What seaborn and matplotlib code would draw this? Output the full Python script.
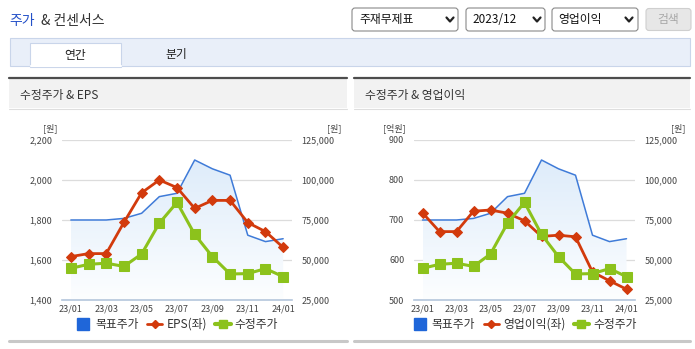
import numpy as np
import pandas as pd
import matplotlib
matplotlib.use("Agg")
import matplotlib.pyplot as plt
import seaborn as sns
from matplotlib.patches import Rectangle, FancyBboxPatch, Polygon
from matplotlib.lines import Line2D
from matplotlib.ticker import FuncFormatter

# ---------------- data ----------------
months = ["23/01", "23/02", "23/03", "23/04", "23/05", "23/06", "23/07",
          "23/08", "23/09", "23/10", "23/11", "23/12", "24/01"]
tick_labels = ["23/01", "23/03", "23/05", "23/07", "23/09", "23/11", "24/01"]
target_price = [75000, 75000, 75000, 76000, 79200, 89600, 91700,
                112500, 107000, 103000, 65500, 61500, 63300]
adj_price = [44800, 47300, 48000, 46000, 53750, 73000, 86000,
             66000, 52100, 41250, 41500, 44600, 39600]
eps = [1617, 1632, 1632, 1788, 1936, 2000, 1962, 1858, 1898, 1898, 1787, 1742, 1663]
op_profit = [718, 671, 671, 722, 725, 717, 698, 659, 662, 658, 570, 548, 527]

eps_ticks = [1400, 1600, 1800, 2000, 2200]
op_ticks = [500, 600, 700, 800, 900]
price_ticks = [25000, 50000, 75000, 100000, 125000]

sns.set_style("white")
plt.rcParams["font.family"] = ["Noto Sans CJK KR", "DejaVu Sans"]

W, H = 695, 349
fig = plt.figure(figsize=(W / 100, H / 100), dpi=100)

BLUE = "#3f7bd8"
BLUE_SQ = "#1f66d9"
RED = "#d23a0c"
GREEN = "#8cc21c"
TXT = "#333333"
AXC = "#b4c6dc"

# overlay axes in pixel coordinates for decoration
deco = fig.add_axes([0, 0, 1, 1], zorder=0)
deco.set_xlim(0, W)
deco.set_ylim(H, 0)
deco.axis("off")


def rect(x0, y0, x1, y1, **kw):
    deco.add_patch(Rectangle((x0, y0), x1 - x0, y1 - y0, **kw))


def rbox(x0, y0, x1, y1, **kw):
    deco.add_patch(FancyBboxPatch((x0, y0), x1 - x0, y1 - y0,
                                  boxstyle="round,pad=0,rounding_size=3", **kw))


def chevron(cx, cy):
    deco.plot([cx - 3.5, cx, cx + 3.5], [cy - 2, cy + 2, cy - 2], color="#222222", lw=1.6,
              solid_capstyle="round", solid_joinstyle="round")


# top title
deco.text(9, 21, "주가", color="#2451c8", fontsize=10, va="center", ha="left")
deco.text(41, 21, "& 컨센서스", color=TXT, fontsize=10, va="center", ha="left")

# dropdowns
for x0, x1, label, tx, chx in [(352, 458, "주재무제표", 359, 450),
                               (466, 545, "2023/12", 472, 537),
                               (552, 638, "영업이익", 558, 629)]:
    rbox(x0, 8, x1, 31, facecolor="white", edgecolor="#8a8a8a", lw=0.8)
    deco.text(tx, 19.5, label, fontsize=8.5, color="#111111", va="center", ha="left")
    chevron(chx, 19.5)
rbox(646, 8.5, 691, 30.5, facecolor="#e7e7e7", edgecolor="#cfcfcf", lw=0.8)
deco.text(668.5, 19.5, "검색", fontsize=8.5, color="#a8a8a8", va="center", ha="center")

# tab band
rect(10, 38, 690, 66, facecolor="#e9eff9", edgecolor="#c9d5ea", lw=0.8)
rect(30, 43, 121, 67, facecolor="white", edgecolor="#c9d5ea", lw=0.8)
deco.plot([30.5, 120.5], [66.2, 66.2], color="white", lw=1.5)
deco.text(75.5, 55, "연간", fontsize=8.5, color="#222222", va="center", ha="center")
deco.text(176, 54.5, "분기", fontsize=8.5, color="#222222", va="center", ha="center")

# panel headers
for x0, x1, title in [(9, 347, "수정주가 & EPS"), (354, 690, "수정주가 & 영업이익")]:
    rect(x0, 78, x1, 108, facecolor="#f2f2f2", edgecolor="none")
    deco.plot([x0, x1], [78, 78], color="#4d4d4d", lw=1.6)
    deco.plot([x0, x1], [108.5, 108.5], color="#dedede", lw=0.8)
    deco.text(x0 + 11, 95, title, fontsize=8.5, color=TXT, va="center", ha="left")
    deco.plot([x0, x1], [341, 341], color="#c8c8c8", lw=2.2)


def px_axes(x0, y0, x1, y1):
    return [x0 / W, 1 - y1 / H, (x1 - x0) / W, (y1 - y0) / H]


def comma(v, pos):
    return f"{int(v):,}"


def draw_chart(x0, x1, left_vals, left_ticks, left_unit, left_unit_x, right_unit_x, legend_label):
    idx = np.arange(len(months))
    rect_ = px_axes(x0, 140, x1, 300)

    ax2 = fig.add_axes(rect_, zorder=1)  # price axis (bottom layer): grid, fill, target
    ax = fig.add_axes(rect_, zorder=2)   # left axis: EPS / op profit
    ax3 = fig.add_axes(rect_, zorder=3)  # top layer: adjusted price
    for a in (ax, ax2, ax3):
        a.patch.set_visible(False)
        a.set_xlim(-0.5, len(months) - 0.5)
        for s in a.spines.values():
            s.set_visible(False)

    # price axis
    ax2.set_ylim(price_ticks[0], price_ticks[-1])
    ax3.set_ylim(price_ticks[0], price_ticks[-1])
    ax2.yaxis.tick_right()
    ax2.set_yticks(price_ticks)
    ax2.yaxis.set_major_formatter(FuncFormatter(comma))
    ax2.tick_params(axis="y", length=0, pad=7, labelsize=6.5, labelcolor="#444444")
    ax2.set_xticks([])
    ax2.grid(axis="y", color="#dcdcdc", lw=0.9)
    ax2.set_axisbelow(True)

    # gradient fill under target price
    verts = [(idx[0], price_ticks[0])] + list(zip(idx, target_price)) + [(idx[-1], price_ticks[0])]
    poly = Polygon(verts, closed=True, facecolor="none", edgecolor="none")
    ax2.add_patch(poly)
    t = np.linspace(1, 0, 256)[:, None, None]
    top = np.array([0.87, 0.925, 0.98])
    bot = np.array([0.99, 0.995, 1.0])
    img = bot + (top - bot) * t
    im = ax2.imshow(img, extent=[idx[0], idx[-1], price_ticks[0], 112500], origin="upper",
                    aspect="auto", zorder=1, interpolation="bilinear")
    im.set_clip_path(poly)
    ax2.set_xlim(-0.5, len(months) - 0.5)
    ax2.set_ylim(price_ticks[0], price_ticks[-1])
    sns.lineplot(x=idx, y=target_price, ax=ax2, color=BLUE, lw=1.1, zorder=3)

    # left value axis
    ax.set_ylim(left_ticks[0], left_ticks[-1])
    ax.set_yticks(left_ticks)
    ax.yaxis.set_major_formatter(FuncFormatter(comma))
    ax.tick_params(axis="y", length=0, pad=7, labelsize=6.5, labelcolor="#444444")
    sns.lineplot(x=idx, y=left_vals, ax=ax, color=RED, lw=2, marker="D", markersize=5,
                 markeredgecolor=RED, markerfacecolor=RED, zorder=4)
    ax.spines["bottom"].set_visible(True)
    ax.spines["bottom"].set_color(AXC)
    ax.spines["bottom"].set_linewidth(1.2)
    ax.set_xticks(idx[::2])
    ax.set_xticklabels(tick_labels)
    ax.set_xticks([-0.5, 2.5, 4.5, 6.5, 8.5, 10.5, 12.5], minor=True)
    ax.tick_params(axis="x", which="major", length=0, pad=3, labelsize=6.5, labelcolor="#444444")
    ax.tick_params(axis="x", which="minor", length=5, width=1.2, color=AXC)
    ax.set_xlim(-0.5, len(months) - 0.5)

    # adjusted price on top
    sns.lineplot(x=idx, y=adj_price, ax=ax3, color=GREEN, lw=2.2, marker="s", markersize=7,
                 markeredgecolor=GREEN, markerfacecolor=GREEN, zorder=5)
    ax3.set_xticks([])
    ax3.set_yticks([])
    ax3.set_xlim(-0.5, len(months) - 0.5)

    for a in (ax, ax2, ax3):
        a.set_xlabel("")
        a.set_ylabel("")

    # unit labels
    deco.text(left_unit_x, 128.5, left_unit, fontsize=6.5, color="#444444", ha="right", va="center")
    deco.text(right_unit_x, 128.5, "[원]", fontsize=6.5, color="#444444", ha="right", va="center")

    # legend
    handles = [
        Line2D([], [], marker="s", linestyle="none", markersize=8.5,
               markerfacecolor=BLUE_SQ, markeredgecolor=BLUE_SQ),
        Line2D([], [], color=RED, lw=2, marker="D", markersize=4,
               markerfacecolor=RED, markeredgecolor=RED),
        Line2D([], [], color=GREEN, lw=3, marker="s", markersize=6,
               markerfacecolor=GREEN, markeredgecolor=GREEN),
    ]
    labels = ["목표주가", legend_label, "수정주가"]
    cx = (x0 + x1) / 2 / W
    leg = fig.legend(handles, labels, loc="center", bbox_to_anchor=(cx, 1 - 324.5 / H), ncol=3,
                     frameon=False, fontsize=8.5, handlelength=1.3, handletextpad=0.35,
                     columnspacing=0.7, borderaxespad=0)
    for tx in leg.get_texts():
        tx.set_color(TXT)


draw_chart(62, 292, eps, eps_ticks, "[원]", 57, 341, "EPS(좌)")
draw_chart(414, 635, op_profit, op_ticks, "[억원]", 406, 686, "영업이익(좌)")

fig.savefig("out.png", dpi=100)
